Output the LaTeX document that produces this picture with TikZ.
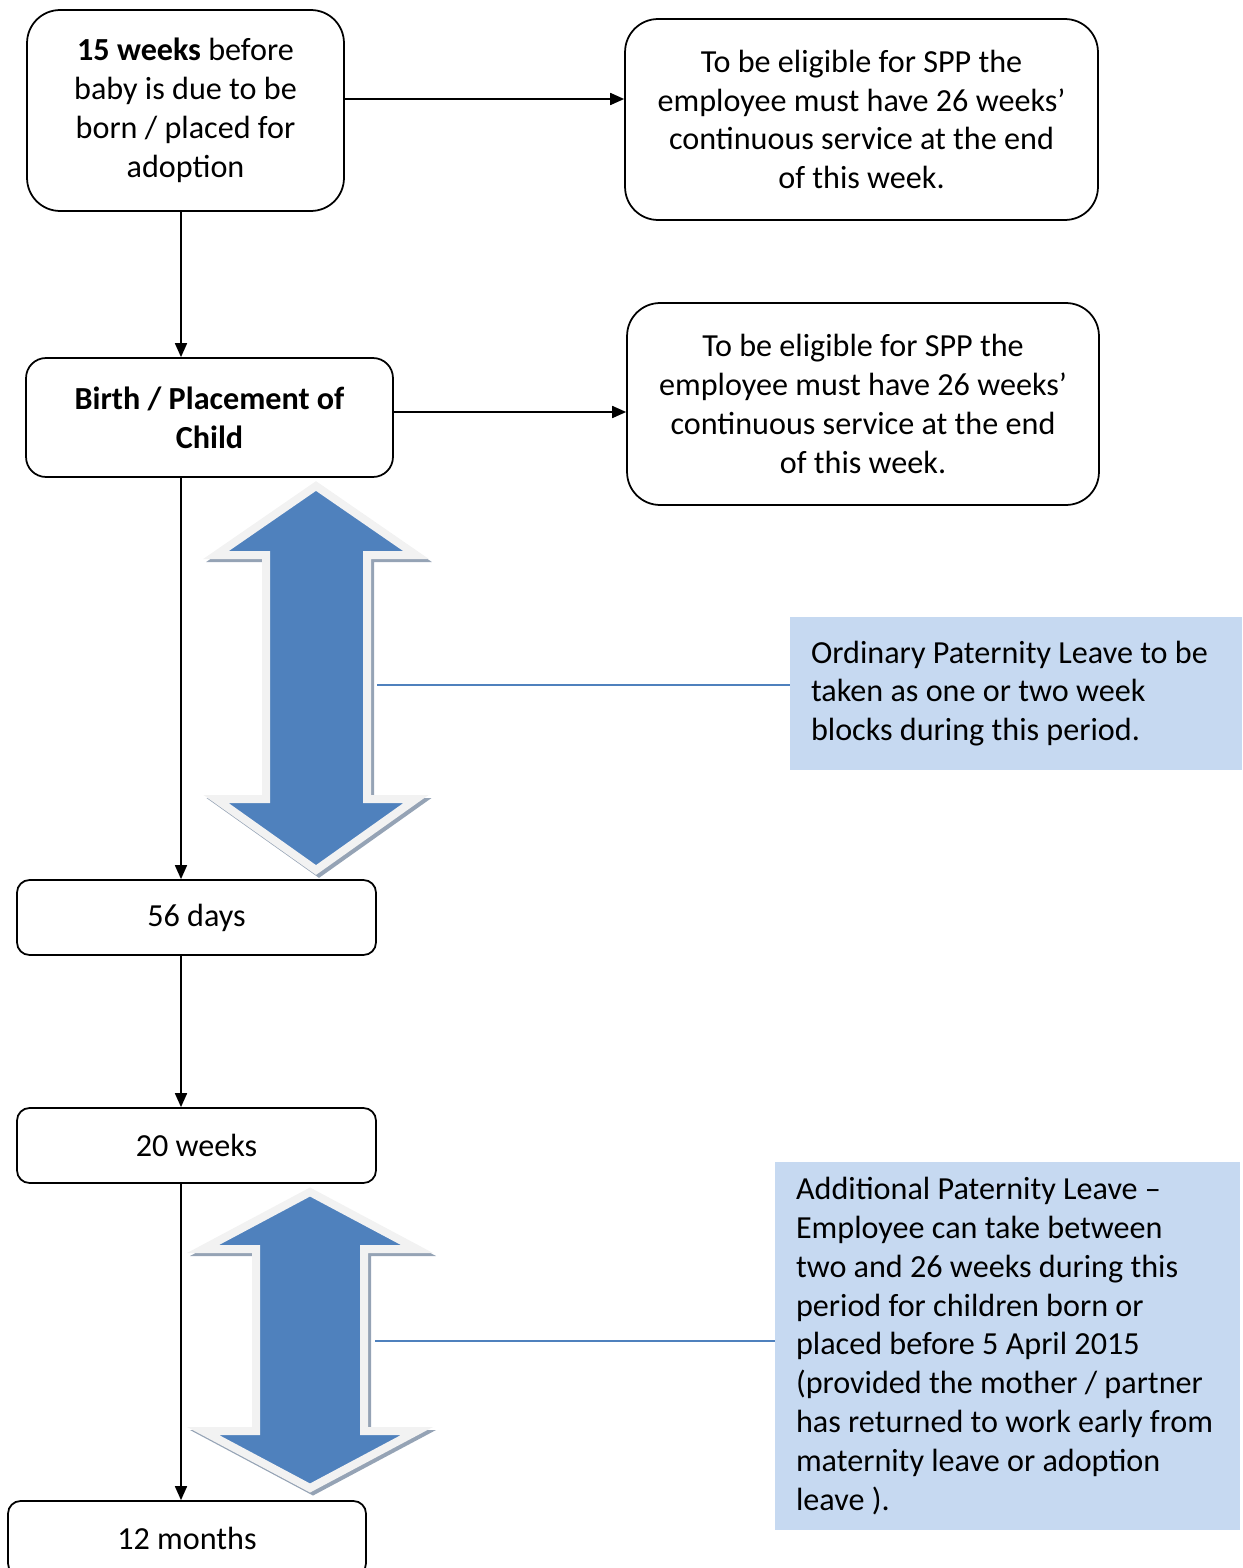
\documentclass[tikz,border=0pt]{standalone}
\usepackage{fontspec}
\setmainfont{Carlito}
\usetikzlibrary{positioning,arrows.meta}
\definecolor{arrowblue}{HTML}{4F81BD}
\definecolor{arrowrim}{HTML}{F2F2F2}
\definecolor{arrowshade}{HTML}{95A3B5}
\definecolor{notefill}{HTML}{C6D9F1}

\begin{document}
\begin{tikzpicture}[x=0.02cm,y=-0.02cm,>={Triangle[length=0.28cm,width=0.24cm]},
    font=\fontsize{18.3}{22.1}\selectfont,
    box/.style={draw,line width=1pt,rounded corners=#1,align=center,inner sep=0pt},
    note/.style={fill=notefill,align=flush left,inner xsep=0.42cm,inner ysep=0pt},
    leader/.style={draw=arrowblue,line width=0.8pt},
    dblarrow/.style={fill=arrowblue,draw=arrowrim,line width=0.16cm,line join=miter},
    dblshade/.style={fill=arrowshade,draw=arrowshade,line width=0.16cm,line join=miter,shift={(3,3)}}]
          \useasboundingbox (0,0) rectangle (1242,1568);
          \clip (0,0) rectangle (1242,1568);
          \coordinate (spine) at (181,0);
          % left column
          \node[box=0.66cm, minimum width=6.34cm, minimum height=4.02cm] (wk15) at (185.5,110.5)
                {\textbf{15 weeks} before\\baby is due to be\\born / placed for\\adoption};
          \node[box=0.4cm, minimum width=7.34cm, minimum height=2.38cm] (birth) at (209.5,417.5)
                {\textbf{Birth / Placement of}\\\textbf{Child}};
          \node[box=0.25cm, minimum width=7.18cm, minimum height=1.5cm] (days56) at (196.5,917.5) {56 days};
          \node[box=0.25cm, minimum width=7.18cm, minimum height=1.5cm] (wk20) at (196.5,1145.5) {20 weeks};
          \node[box=0.25cm, minimum width=7.16cm, minimum height=1.5cm] (mon12) at (187,1538.5) {12 months};
          % right column
          \node[box=0.66cm, minimum width=9.46cm, minimum height=4.02cm] (elig1) at (861.5,119.5)
                {To be eligible for SPP the\\employee must have 26 weeks’\\continuous service at the end\\of this week.};
          \node[box=0.66cm, minimum width=9.44cm, minimum height=4.04cm] (elig2) at (863,404)
                {To be eligible for SPP the\\employee must have 26 weeks’\\continuous service at the end\\of this week.};
          \node[note, text width=8.2cm, minimum height=3.06cm] (ordinary) at (1016,693.5)
                {Ordinary Paternity Leave to be\\taken as one or two week\\blocks during this period.};
          \node[note, text width=8.46cm, minimum height=7.36cm] (additional) at (1007.5,1346)
                {Additional Paternity Leave –\\Employee can take between\\two and 26 weeks during this\\period for children born or\\placed before 5 April 2015\\(provided the mother / partner\\has returned to work early from\\maternity leave or adoption\\leave ).};
          % double arrows
          \path[dblshade] (316,486) -- (416,555) -- (367,555) -- (367,799) -- (416,799) -- (316,870)
                -- (216,799) -- (266,799) -- (266,555) -- (216,555) -- cycle;
          \path[dblarrow] (316,486) -- (416,555) -- (367,555) -- (367,799) -- (416,799) -- (316,870)
                -- (216,799) -- (266,799) -- (266,555) -- (216,555) -- cycle;
          \path[dblshade] (310,1192) -- (417,1249) -- (364,1249) -- (364,1431) -- (417,1431) -- (310,1488)
                -- (203,1431) -- (256,1431) -- (256,1249) -- (203,1249) -- cycle;
          \path[dblarrow] (310,1192) -- (417,1249) -- (364,1249) -- (364,1431) -- (417,1431) -- (310,1488)
                -- (203,1431) -- (256,1431) -- (256,1249) -- (203,1249) -- cycle;
          \coordinate (opl) at (377,685);
          \coordinate (apl) at (375,1341);
          \draw[leader] (opl) -- (opl -| ordinary.west);
          \draw[leader] (apl) -- (apl -| additional.west);
          % connectors
          \path[->, line width=1pt]
                (wk15.south -| spine) edge (birth.north -| spine)
                (birth.south -| spine) edge (days56.north -| spine)
                (days56.south -| spine) edge (wk20.north -| spine)
                (wk20.south -| spine) edge (mon12.north -| spine)
                ([yshift=0.23cm]wk15.east) edge ([yshift=0.23cm]wk15.east -| elig1.west)
                ([yshift=0.11cm]birth.east) edge ([yshift=0.11cm]birth.east -| elig2.west);
        \end{tikzpicture}
\end{document}
